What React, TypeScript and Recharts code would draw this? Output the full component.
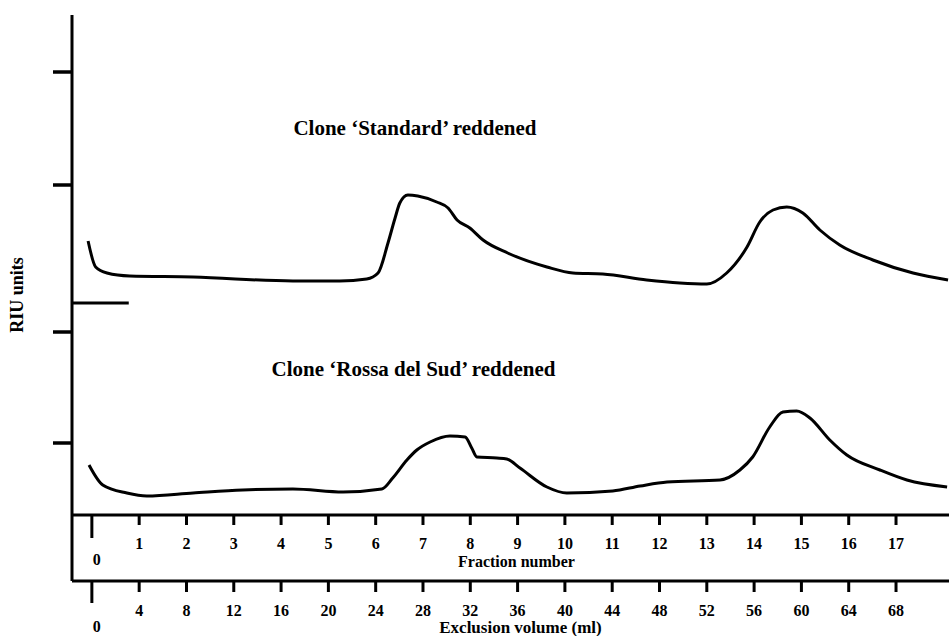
import React from "react";
import { LineChart, Line, XAxis, YAxis, ReferenceLine, ReferenceDot } from "recharts";

// fraction number axis; exclusion volume is 4 ml per fraction
const fracDomain = [-0.42, 18.12];
const mlPerFraction = 4;
const fractionTicks = [0, 1, 2, 3, 4, 5, 6, 7, 8, 9, 10, 11, 12, 13, 14, 15, 16, 17];
const volumeTicks = [0, 4, 8, 12, 16, 20, 24, 28, 32, 36, 40, 44, 48, 52, 56, 60, 64, 68];
const riuTicks = [7.2, 18.3, 33.0, 44.3];

// Clone 'Standard' reddened (upper trace)
const standardFrac = [
  -0.08, 0.08, 0.32, 0.8, 2.14, 4.25, 5.24, 5.81, 6.05, 6.26, 6.41, 6.51, 6.68, 6.89,
  7.29, 7.53, 7.72, 7.99, 8.27, 8.79, 9.62, 10.17, 10.8, 11.73, 12.43, 13.0, 13.42,
  13.85, 14.12, 14.4, 14.69, 15.03, 15.39, 15.81, 16.51, 17.36, 18.1,
];
const standardRiu = [
  27.4, 24.8, 24.2, 23.9, 23.8, 23.4, 23.4, 23.6, 24.2, 27.2, 29.7, 31.2, 32.0, 31.9,
  31.3, 30.7, 29.5, 28.7, 27.5, 26.2, 24.8, 24.2, 24.1, 23.5, 23.2, 23.1, 24.2,
  26.8, 29.3, 30.5, 30.8, 30.2, 28.5, 27.0, 25.5, 24.2, 23.5,
];

// Clone 'Rossa del Sud' reddened (lower trace)
const rossaFrac = [
  -0.06, 0.23, 0.74, 1.16, 2.14, 3.19, 4.25, 5.31, 6.13, 6.36, 6.66, 6.87, 7.15, 7.57,
  7.89, 8.03, 8.14, 8.56, 8.77, 9.05, 9.62, 10.04, 11.01, 11.59, 12.16, 13.28, 13.7,
  13.97, 14.33, 14.61, 14.9, 15.18, 15.6, 15.96, 16.66, 17.23, 18.08,
];
const rossaRiu = [
  5.0, 3.0, 2.2, 1.9, 2.2, 2.5, 2.6, 2.3, 2.6, 3.7, 5.5, 6.5, 7.3, 7.9,
  7.8, 6.7, 5.8, 5.7, 5.6, 4.7, 2.8, 2.2, 2.4, 2.9, 3.3, 3.5, 4.5,
  5.8, 8.8, 10.3, 10.4, 9.7, 7.5, 6.0, 4.5, 3.5, 2.8,
];

const standard = standardFrac.map((f, i) => ({ f, riu: standardRiu[i] }));
const rossa = rossaFrac.map((f, i) => ({ f, riu: rossaRiu[i] }));

const serif = "'Liberation Serif', 'Times New Roman', serif";
const txt = { fill: "#000", fontFamily: serif, fontWeight: 700 } as const;

const FracTick = ({ x, y, payload }: any) => {
  const v = payload.value;
  if (v === fracDomain[0]) {
    return <line x1={x} x2={x} y1={y} y2={y + 66} stroke="#000" strokeWidth={3} />;
  }
  if (v === 0) {
    return (
      <g>
        <line x1={x} x2={x} y1={y} y2={y + 23} stroke="#000" strokeWidth={3} />
        <text x={x + 5} y={y + 50} textAnchor="middle" fontSize={16} {...txt}>0</text>
      </g>
    );
  }
  return (
    <g>
      <line x1={x} x2={x} y1={y} y2={y + 10} stroke="#000" strokeWidth={3} />
      <text x={x} y={y + 34} textAnchor="middle" fontSize={16} {...txt}>{v}</text>
    </g>
  );
};

const VolTick = ({ x, y, payload }: any) => {
  const ml = Math.round(payload.value * mlPerFraction);
  if (ml === 0) {
    return (
      <g>
        <line x1={x} x2={x} y1={y} y2={y + 22} stroke="#000" strokeWidth={3} />
        <text x={x + 5} y={y + 51} textAnchor="middle" fontSize={16} {...txt}>0</text>
      </g>
    );
  }
  return (
    <g>
      <line x1={x} x2={x} y1={y} y2={y + 11} stroke="#000" strokeWidth={3} />
      <text x={x} y={y + 35} textAnchor="middle" fontSize={16} {...txt}>{ml}</text>
    </g>
  );
};

const RiuTick = ({ x, y }: any) => (
  <line x1={x - 19} x2={x} y1={y} y2={y} stroke="#000" strokeWidth={3.5} />
);

const axisTitle = (text: string, dx: number, dy: number, size: number) => (p: any) => {
  const vb = p.viewBox || { x: 72, y: 515, width: 877, height: 66 };
  return (
    <text x={vb.x + vb.width / 2 + dx} y={vb.y + dy} textAnchor="middle" fontSize={size} {...txt}>
      {text}
    </text>
  );
};

const riuLabel = (p: any) => {
  const vb = p.viewBox || { x: 0, y: 15, width: 72, height: 500 };
  const cx = vb.x + 23;
  const cy = vb.y + vb.height / 2 + 30;
  return (
    <text x={cx} y={cy} transform={`rotate(-90 ${cx} ${cy})`} textAnchor="middle" fontSize={18} {...txt}>
      RIU units
    </text>
  );
};

const titleLabel = (value: string) => ({
  value,
  position: "center" as const,
  fontSize: 21,
  ...txt,
});

export default function App() {
  return (
    <div style={{ position: "absolute", left: 0, top: 0, width: 949, height: 636, background: "#fff" }}>
      <LineChart width={949} height={636} margin={{ top: 15, right: 0, bottom: 0, left: 0 }}>
        <XAxis
          xAxisId="frac"
          type="number"
          dataKey="f"
          domain={fracDomain}
          allowDataOverflow
          ticks={[fracDomain[0], ...fractionTicks]}
          interval={0}
          tickSize={0}
          tickMargin={0}
          tickLine={false}
          axisLine={{ stroke: "#000", strokeWidth: 3 }}
          height={66}
          tick={<FracTick />}
          label={{ content: axisTitle("Fraction number", 6, 52, 16) }}
        />
        <XAxis
          xAxisId="vol"
          type="number"
          dataKey="f"
          domain={fracDomain}
          allowDataOverflow
          ticks={volumeTicks.map((ml) => ml / mlPerFraction)}
          interval={0}
          tickSize={0}
          tickMargin={0}
          tickLine={false}
          axisLine={{ stroke: "#000", strokeWidth: 3 }}
          height={55}
          tick={<VolTick />}
          label={{ content: axisTitle("Exclusion volume (ml)", 10, 52, 17) }}
        />
        <YAxis
          type="number"
          domain={[0, 50]}
          allowDataOverflow
          ticks={riuTicks}
          interval={0}
          width={72}
          tickSize={0}
          tickMargin={0}
          tickLine={false}
          tick={<RiuTick />}
          axisLine={{ stroke: "#000", strokeWidth: 3 }}
          label={{ content: riuLabel }}
        />
        <ReferenceLine
          xAxisId="frac"
          segment={[{ x: fracDomain[0], y: 21.2 }, { x: 0.78, y: 21.2 }]}
          stroke="#000"
          strokeWidth={3}
        />
        <ReferenceDot xAxisId="frac" x={6.83} y={38.7} r={0} label={titleLabel("Clone \u2018Standard\u2019 reddened")} />
        <ReferenceDot xAxisId="frac" x={6.8} y={14.6} r={0} label={titleLabel("Clone \u2018Rossa del Sud\u2019 reddened")} />
        <Line
          xAxisId="frac"
          data={standard}
          dataKey="riu"
          type="monotone"
          stroke="#000"
          strokeWidth={3}
          dot={false}
          isAnimationActive={false}
        />
        <Line
          xAxisId="frac"
          data={rossa}
          dataKey="riu"
          type="monotone"
          stroke="#000"
          strokeWidth={3}
          dot={false}
          isAnimationActive={false}
        />
        {/* keeps the volume axis tied to the same fraction scale */}
        <Line
          xAxisId="vol"
          data={rossa}
          dataKey="riu"
          stroke="none"
          dot={false}
          activeDot={false}
          legendType="none"
          isAnimationActive={false}
        />
      </LineChart>
    </div>
  );
}
